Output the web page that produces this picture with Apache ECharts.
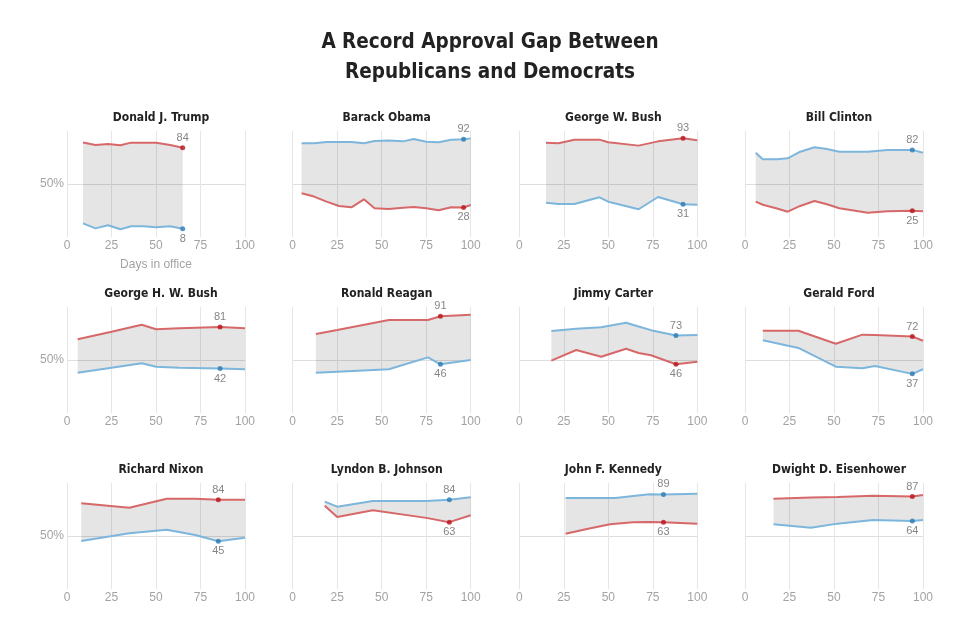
<!DOCTYPE html>
<html>
<head>
<meta charset="utf-8">
<script src="https://cdn.jsdelivr.net/npm/echarts@6/dist/echarts.min.js"></script>
<style>
html,body{margin:0;padding:0;background:#fff;}
#chart{width:980px;height:638px;}
</style>
</head>
<body>
<div id="chart"></div>
<script>
// ---- Data (days in office, % approval among Republicans / Democrats) ----
const mainTitle = 'A Record Approval Gap Between\nRepublicans and Democrats';
const xTicks = [0, 25, 50, 75, 100];

const trumpDays = [9, 16, 23, 30, 36, 43, 50, 58, 65];
const trumpRep  = [89, 86.6, 87.5, 86.3, 88.8, 88.8, 88.8, 86.6, 84];
const trumpDem  = [13, 8.4, 11.3, 7.5, 10.3, 10.3, 9.4, 10.3, 8];

const obamaDays = [5, 12, 19, 26, 33, 40, 46, 54, 62, 68, 75, 82, 89, 96, 100];
const obamaRep  = [41.3, 38.2, 33.5, 29.4, 28.1, 35.6, 27.2, 26.6, 27.8, 28.4, 27.2, 25.3, 28.1, 28, 30.3];
const obamaDem  = [88.2, 88.2, 89.4, 89.4, 89.4, 88.2, 90.3, 90.9, 90.0, 92.2, 89.7, 89.1, 91.6, 92, 92.8];

const gwbushDays = [15, 22, 31, 45, 50, 67, 78, 92, 100];
const gwbushRep  = [88.8, 88.2, 91.6, 91.6, 89.1, 86, 90, 93, 91];
const gwbushDem  = [32.5, 31.2, 31.2, 37.5, 33.4, 26.3, 37.8, 31, 30.6];

const clintonDays = [6, 10, 18, 24, 31, 39, 46, 53, 69, 80, 94, 100];
const clintonRep  = [33.4, 30.5, 27, 24, 29.4, 34.1, 31, 27.2, 23.1, 24.4, 25, 24.4];
const clintonDem  = [79.4, 73.2, 73.2, 74.1, 80.3, 84.4, 82.8, 80.3, 80.3, 81.9, 82, 79.4];

const ghwbushDays = [6, 25, 42, 50, 63, 86, 100];
const ghwbushRep  = [69.4, 76.5, 83.1, 78.8, 79.7, 81, 79.7];
const ghwbushDem  = [38.1, 42.8, 46.9, 43.7, 42.8, 42, 41.3];

const reaganDays = [13, 25, 54, 76, 83, 100];
const reaganRep  = [74.4, 78.2, 87.5, 87.5, 91, 92.5];
const reaganDem  = [38.1, 39, 41.3, 52.5, 46, 50];

const carterDays = [18, 32, 46, 60, 67, 74, 88, 100];
const carterRep  = [49.4, 59.4, 53.1, 60.6, 56.6, 54.4, 46, 48.4];
const carterDem  = [77.2, 79.4, 80.7, 85, 81.5, 78, 73, 73.4];

const fordDays = [10, 30, 51, 66, 73, 94, 100];
const fordRep  = [77.5, 77.5, 65.3, 73.8, 73.5, 72, 68.1];
const fordDem  = [68.5, 61.3, 43.7, 42.2, 44.4, 37, 41.3];

const nixonDays = [8, 35, 56, 72, 85, 100];
const nixonRep  = [80.7, 76.5, 85, 85, 84, 84];
const nixonDem  = [45.3, 52.5, 55.9, 50.9, 45, 48.4];

const johnsonDays = [18, 25, 45, 75, 88, 100];
const johnsonRep  = [78.4, 67.8, 74.1, 67, 63, 69.4];
const johnsonDem  = [82.2, 77.5, 82.8, 82.8, 84, 86.3];

const kennedyDays = [26, 38, 51, 54, 64, 73, 81, 100];
const kennedyRep  = [52.2, 56.6, 61, 61.5, 62.8, 63.2, 63, 61.6];
const kennedyDem  = [85.6, 85.6, 85.6, 85.6, 87.5, 89.1, 89, 89.7];

const eisenhowerDays = [16, 37, 52, 72, 94, 100];
const eisenhowerRep  = [85, 86, 86.6, 87.8, 87, 88.4];
const eisenhowerDem  = [61, 57.8, 61.6, 65, 64, 65];

const presidentNames = ['Donald J. Trump', 'Barack Obama', 'George W. Bush', 'Bill Clinton',
  'George H. W. Bush', 'Ronald Reagan', 'Jimmy Carter', 'Gerald Ford',
  'Richard Nixon', 'Lyndon B. Johnson', 'John F. Kennedy', 'Dwight D. Eisenhower'];
const markDays = [65, 96, 92, 94, 86, 83, 88, 94, 85, 88, 81, 94];

const panelDays = [trumpDays, obamaDays, gwbushDays, clintonDays, ghwbushDays, reaganDays, carterDays, fordDays, nixonDays, johnsonDays, kennedyDays, eisenhowerDays];
const panelRep  = [trumpRep, obamaRep, gwbushRep, clintonRep, ghwbushRep, reaganRep, carterRep, fordRep, nixonRep, johnsonRep, kennedyRep, eisenhowerRep];
const panelDem  = [trumpDem, obamaDem, gwbushDem, clintonDem, ghwbushDem, reaganDem, carterDem, fordDem, nixonDem, johnsonDem, kennedyDem, eisenhowerDem];

// ---- Layout / style ----
const colLeft = [67, 292.7, 519.3, 745];
const rowTop = [130.7, 306.7, 482.7];
const gridW = 178, gridH = 106.6;
const REP_LINE = '#d7686a', DEM_LINE = '#7db6dc';
const REP_DOT = '#b8141c', DEM_DOT = '#2b7bb4';
const FONT = "'DejaVu Sans Condensed', 'Liberation Sans', sans-serif";
const AXFONT = "'Liberation Sans', Arial, sans-serif";

const chart = echarts.init(document.getElementById('chart'), null, {renderer: 'canvas'});

const titles = [{
  text: mainTitle, left: 'center', top: 23,
  textStyle: {fontFamily: FONT, fontWeight: 'bold', fontSize: 20.5, lineHeight: 30, color: '#222'}
}];
const grids = [], xAxes = [], yAxes = [], series = [];

presidentNames.forEach((name, i) => {
  const r = Math.floor(i / 4), c = i % 4;
  const left = colLeft[c], top = rowTop[r];
  titles.push({
    text: name, left: left + gridW / 2, top: top - 24, textAlign: 'center',
    textStyle: {fontFamily: FONT, fontWeight: 'bold', fontSize: 12, color: '#222'}
  });
  grids.push({left: left, top: top, width: gridW, height: gridH, containLabel: false});
  xAxes.push({
    type: 'value', gridIndex: i, min: 0, max: 100, interval: 25,
    axisLine: {show: false}, axisTick: {show: false},
    axisLabel: {color: '#a3a3a3', fontSize: 12, fontFamily: AXFONT, margin: 2},
    splitLine: {show: true, lineStyle: {color: '#e6e6e6', width: 1}},
    name: i === 0 ? 'Days in office' : '', nameLocation: 'middle', nameGap: 21,
    nameTextStyle: {color: '#a3a3a3', fontSize: 12, fontFamily: AXFONT}
  });
  yAxes.push({
    type: 'value', gridIndex: i, min: 0, max: 100, interval: 50,
    axisLine: {show: false}, axisTick: {show: false},
    axisLabel: {show: c === 0, color: '#a3a3a3', fontSize: 12, fontFamily: AXFONT, margin: 3,
      formatter: v => (v === 50 ? '50%' : '')},
    splitLine: {show: true, lineStyle: {color: ['rgba(0,0,0,0)', '#dedede', 'rgba(0,0,0,0)'], width: 1}}
  });

  const days = panelDays[i], rep = panelRep[i], dem = panelDem[i];
  const repPts = days.map((d, k) => [d, rep[k]]);
  const demPts = days.map((d, k) => [d, dem[k]]);

  // shaded gap between the two lines
  series.push({
    type: 'custom', xAxisIndex: i, yAxisIndex: i, silent: true, z: 1,
    data: [[days[0], rep[0]]],
    renderItem: (params, api) => {
      const upper = repPts.map(p => api.coord(p));
      const lower = demPts.slice().reverse().map(p => api.coord(p));
      return {type: 'polygon', shape: {points: upper.concat(lower)},
        style: {fill: 'rgba(0,0,0,0.1)'}};
    }
  });
  series.push({type: 'line', xAxisIndex: i, yAxisIndex: i, data: repPts, showSymbol: false, silent: true,
    lineStyle: {color: REP_LINE, width: 2}, z: 3});
  series.push({type: 'line', xAxisIndex: i, yAxisIndex: i, data: demPts, showSymbol: false, silent: true,
    lineStyle: {color: DEM_LINE, width: 2}, z: 3});

  const mi = days.indexOf(markDays[i]);
  const repUp = rep[mi] > dem[mi];
  const lbl = pos => ({show: true, position: pos, distance: 2, color: '#666', fontSize: 11,
    fontFamily: AXFONT, formatter: p => Math.round(p.value[1])});
  series.push({type: 'scatter', xAxisIndex: i, yAxisIndex: i, silent: true, z: 4, symbolSize: 5,
    data: [{value: [days[mi], rep[mi]], itemStyle: {color: REP_DOT}, label: lbl(repUp ? 'top' : 'bottom')},
           {value: [days[mi], dem[mi]], itemStyle: {color: DEM_DOT}, label: lbl(repUp ? 'bottom' : 'top')}]});
});

chart.setOption({
  animation: false,
  backgroundColor: '#fff',
  title: titles,
  grid: grids,
  xAxis: xAxes,
  yAxis: yAxes,
  series: series
});
</script>
</body>
</html>
